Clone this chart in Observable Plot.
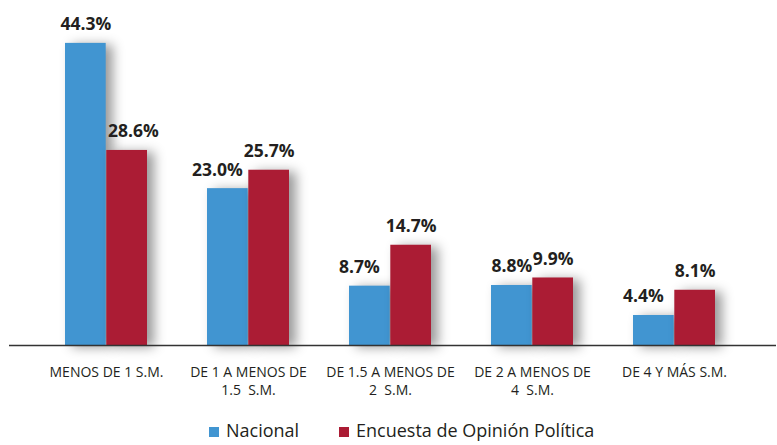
<!DOCTYPE html>
<html>
<head>
<meta charset="utf-8">
<script src="https://cdn.jsdelivr.net/npm/d3@7"></script>
<script src="https://cdn.jsdelivr.net/npm/@observablehq/plot@0.6"></script>
<style>
  html, body { margin: 0; padding: 0; background: #fff; }
  #chart svg { display: block; }
  #chart svg text, #chart svg tspan { white-space: pre; }
  #chart g[aria-label="bar"] { filter: drop-shadow(7px 2px 6px rgba(0,0,0,0.4)); }
  #legend { height: 30px; position: relative; font-family: "Open Sans", sans-serif; font-size: 18px; color: #231f20; }
  .item { position: absolute; top: 3px; display: flex; align-items: center; white-space: nowrap; }
  .sw { width: 10px; height: 10px; margin-right: 7px; margin-top: 3px; }
</style>
</head>
<body>
<div id="chart"></div>
<div id="legend"></div>
<script>
const categories = ["MENOS DE 1 S.M.", "DE 1 A MENOS DE\n1.5  S.M.", "DE 1.5 A MENOS DE\n2  S.M.", "DE 2 A MENOS DE\n4  S.M.", "DE 4 Y MÁS S.M."];
const seriesNames = ["Nacional", "Encuesta de Opinión Política"];
const nacional = [44.3, 23.0, 8.7, 8.8, 4.4];
const encuesta = [28.6, 25.7, 14.7, 9.9, 8.1];
const colors = ["#4195d1", "#ab1c34"];

const rows = [];
categories.forEach((c, i) => {
  rows.push({category: c, series: seriesNames[0], value: nacional[i], other: encuesta[i]});
  rows.push({category: c, series: seriesNames[1], value: encuesta[i], other: nacional[i]});
});
const blue = rows.filter(d => d.series === seriesNames[0]);
const red = rows.filter(d => d.series === seriesNames[1]);
const fmt = d => d.value.toFixed(1) + "%";
const labelStyle = {x: "category", y: "value", text: fmt, lineAnchor: "bottom", dy: -13,
  fontWeight: "bold", fontSize: 17.5, fill: "#231f20"};

const chart = Plot.plot({
  width: 777, height: 415,
  marginLeft: 9, marginRight: 1, marginTop: 4, marginBottom: 70,
  style: {fontFamily: "Open Sans, sans-serif", background: "#fff"},
  x: {domain: categories, range: [33.6, 747.4], paddingInner: 0.4214, paddingOuter: 0.2107},
  y: {domain: [0, 50], axis: null},
  marks: [
    Plot.barY(blue, {x: "category", y: "value", fill: colors[0], insetRight: 41.3}),
    Plot.barY(red, {x: "category", y: "value", fill: colors[1], insetLeft: 41.3}),
    Plot.ruleY([0], {stroke: "#333", strokeWidth: 1.3}),
    Plot.axisX({tickSize: 0, tickPadding: 18, lineHeight: 1.32, fontSize: 14, fill: "#231f20", label: null}),
    Plot.text(blue, {...labelStyle, filter: d => !(d.other > d.value + 2), dx: -20.65}),
    Plot.text(blue, {...labelStyle, filter: d => d.other > d.value + 2, dx: -31}),
    Plot.text(red, {...labelStyle, filter: d => !(d.other > d.value + 2), dx: 20.65}),
    Plot.text(red, {...labelStyle, filter: d => d.other > d.value + 2, dx: 27})
  ]
});
document.getElementById("chart").appendChild(chart);

const legend = document.getElementById("legend");
const lefts = [209, 339];
seriesNames.forEach((s, i) => {
  const it = document.createElement("div");
  it.className = "item";
  it.style.left = lefts[i] + "px";
  const sw = document.createElement("span");
  sw.className = "sw";
  sw.style.background = colors[i];
  const tx = document.createElement("span");
  tx.textContent = s;
  it.appendChild(sw); it.appendChild(tx);
  legend.appendChild(it);
});
</script>
</body>
</html>
